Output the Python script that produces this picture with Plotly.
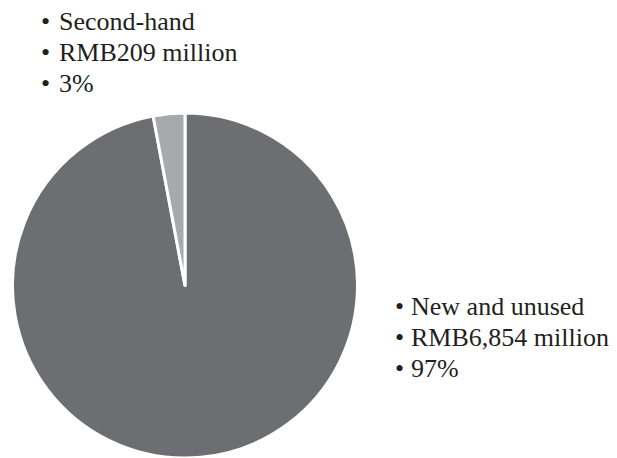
import plotly.graph_objects as go

# Market split by product condition
categories = ["New and unused", "Second-hand"]
values_rmb_million = [6854, 209]
shares_pct = [97, 3]
slice_colors = ["#6d6e71", "#a7a9ac"]

fig = go.Figure(
    go.Pie(
        labels=categories,
        values=values_rmb_million,
        sort=False,
        direction="clockwise",
        rotation=0,
        marker=dict(colors=slice_colors, line=dict(color="white", width=3)),
        textinfo="none",
        hoverinfo="label+value+percent",
        domain=dict(x=[11.5 / 617, 358.5 / 617], y=[0.0, 345 / 458]),
        showlegend=False,
    )
)

def label_lines(name, value, pct):
    return [name, f"RMB{value:,} million", f"{pct}%"]

font = dict(family="Liberation Serif", size=26, color="#231f20")
LINE_GAP = 31


def add_block(lines, bullet_x, text_x, first_y):
    for i, line in enumerate(lines):
        y = first_y + i * LINE_GAP
        fig.add_annotation(
            x=bullet_x, y=y, xref="x", yref="y", text="•", showarrow=False,
            xanchor="center", yanchor="middle", font=font,
        )
        fig.add_annotation(
            x=text_x, y=y, xref="x", yref="y", text=line, showarrow=False,
            xanchor="left", yanchor="middle", font=font,
        )


# Second-hand label block (top-left)
add_block(label_lines(categories[1], values_rmb_million[1], shares_pct[1]), 45, 57, 21)
# New and unused label block (right)
add_block(label_lines(categories[0], values_rmb_million[0], shares_pct[0]), 399, 409, 306)

fig.update_layout(
    width=617,
    height=458,
    margin=dict(l=0, r=0, t=0, b=0),
    paper_bgcolor="white",
    plot_bgcolor="rgba(0,0,0,0)",
    xaxis=dict(range=[0, 617], visible=False, fixedrange=True),
    yaxis=dict(range=[458, 0], visible=False, fixedrange=True),
)

fig.write_html("out.html")
